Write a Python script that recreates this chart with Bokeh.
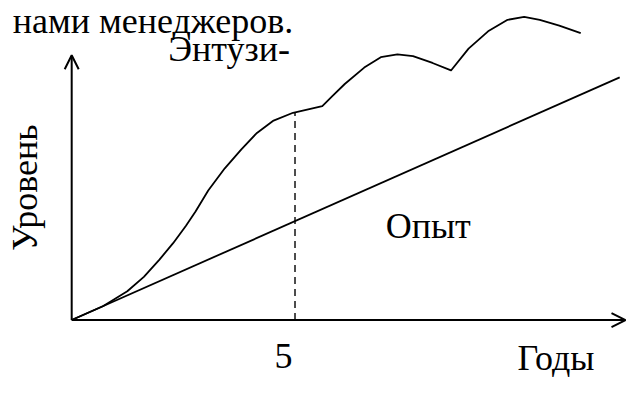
from bokeh.plotting import figure
from bokeh.models import Range1d, Arrow, OpenHead
from bokeh.core.properties import value
from bokeh.embed import file_html
from bokeh.resources import INLINE
import math

# Data (x in years, y in arbitrary "level" units)
enth_x = [0.0, 0.699, 1.245, 1.616, 1.965, 2.271, 2.555, 2.773, 3.057, 3.428,
          3.799, 4.148, 4.520, 4.956, 5.611, 5.83, 6.114, 6.550, 6.921, 7.293,
          7.642, 8.079, 8.493, 8.886, 9.323, 9.760, 10.131, 10.480, 10.917,
          11.397]
enth_y = [0.0, 4.8, 10.0, 15.0, 21.0, 26.7, 32.7, 37.7, 45.0, 52.7,
          59.3, 65.0, 69.3, 72.0, 74.3, 77.7, 82.0, 87.7, 91.3, 92.3,
          91.7, 89.3, 86.7, 94.3, 100.3, 104.3, 105.3, 104.3, 102.3,
          99.7]
exp_x = [0.0, 12.27]
exp_y = [0.0, 84.3]
mark_year = 5
mark_level = 72.0
x_axis_end = 12.4
y_axis_end = 92.0

FONT = value("'Liberation Serif'")
FS = "36px"

p = figure(width=628, height=380, output_backend="svg", toolbar_location=None,
           x_range=Range1d(-1.594, 12.467), y_range=Range1d(-21.0, 111.0),
           min_border=0)
p.axis.visible = False
p.grid.visible = False
p.outline_line_color = None
p.background_fill_color = "white"
p.border_fill_color = "white"

# axes with open arrowheads
p.add_layout(Arrow(end=OpenHead(size=14, line_width=2, line_color="black"),
                   x_start=0, y_start=0, x_end=x_axis_end, y_end=0,
                   line_width=2, line_color="black"))
p.add_layout(Arrow(end=OpenHead(size=14, line_width=2, line_color="black"),
                   x_start=0, y_start=0, x_end=0, y_end=y_axis_end,
                   line_width=2, line_color="black"))

# curves
p.line(enth_x, enth_y, line_color="black", line_width=1.8, line_join="round")
p.line(exp_x, exp_y, line_color="black", line_width=1.8)
p.line([mark_year, mark_year], [0, mark_level], line_color="black",
       line_width=1.4, line_dash="7 5")

# texts
p.text(x=[2.16], y=[101.0], text=["Энтузи-"], text_font=FONT, text_font_size=FS,
       text_baseline="top", text_align="left", text_color="black")
p.text(x=[7.03], y=[39.7], text=["Опыт"], text_font=FONT, text_font_size=FS,
       text_baseline="top", text_align="left", text_color="black")
p.text(x=[4.74], y=[-8.3], text=[str(mark_year)], text_font=FONT, text_font_size=FS,
       text_baseline="top", text_align="center", text_color="black")
p.text(x=[9.98], y=[-6.3], text=["Годы"], text_font=FONT, text_font_size=FS,
       text_baseline="top", text_align="left", text_color="black")
p.text(x=[-1.485], y=[46.0], text=["Уровень"], text_font=FONT, text_font_size=FS,
       text_baseline="top", text_align="center", angle=math.pi / 2,
       text_color="black")
p.text(x=[4.96], y=[110.8], text=["нами менеджеров."], text_font=FONT,
       text_font_size=FS, text_baseline="top", text_align="right",
       text_color="black")

open("out.html", "w").write(file_html(p, INLINE))
